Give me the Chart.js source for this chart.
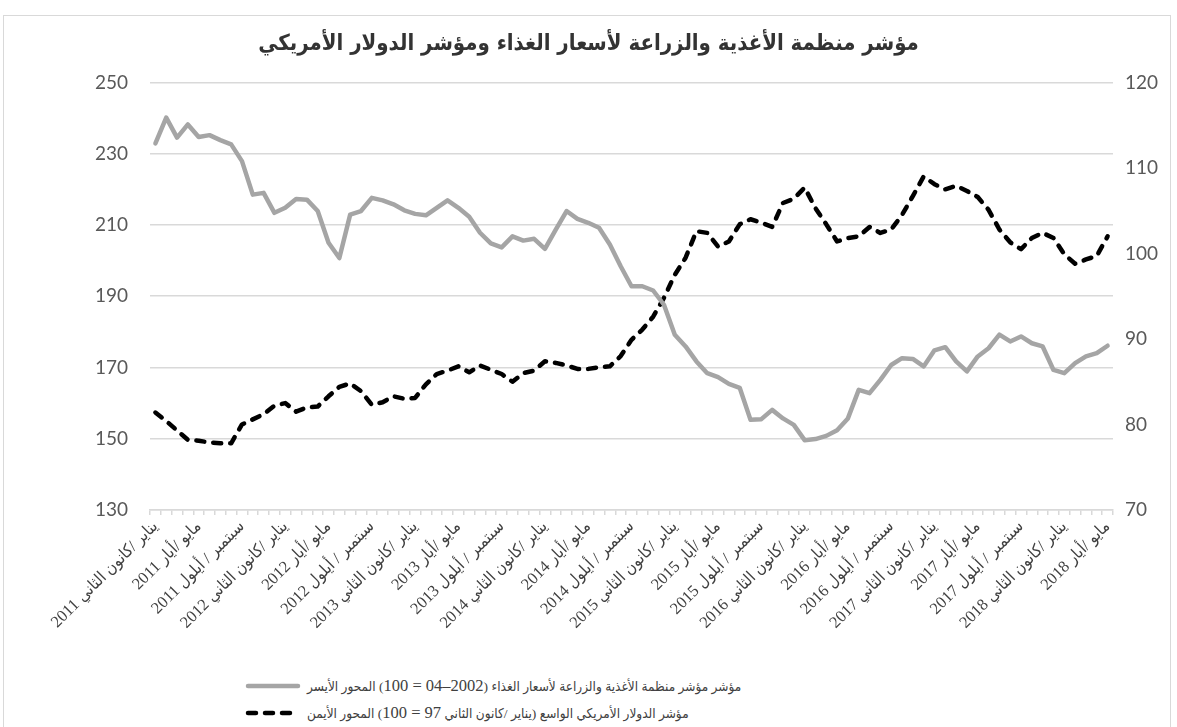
<!DOCTYPE html>
<html><head><meta charset="utf-8">
<script src="https://cdn.jsdelivr.net/npm/chart.js@4"></script>
<style>
html,body{margin:0;padding:0;background:#fff;}
body{width:1177px;height:727px;overflow:hidden;position:relative;font-family:"DejaVu Sans",sans-serif;}
#frame{position:absolute;left:3px;top:15px;width:1168px;height:740px;border:1.5px solid #d9d9d9;box-sizing:border-box;}
#wrap{position:absolute;left:0;top:0;width:1177px;height:640px;}
.leg{position:absolute;left:245px;height:24px;display:flex;align-items:center;}
.leg .t{direction:rtl;unicode-bidi:isolate;font-family:"Liberation Serif","DejaVu Sans Condensed","DejaVu Sans",serif;font-size:13.5px;color:#404040;margin-left:6px;white-space:nowrap;}
.leg .n{font-size:16.5px;}
</style>
</head><body>
<div id="frame"></div>
<div id="wrap"><canvas id="c" width="1177" height="640"></canvas></div>
<div class="leg" style="top:674px;"><svg width="56" height="12"><line x1="3" y1="6" x2="53" y2="6" stroke="#a5a5a5" stroke-width="4.5" stroke-linecap="round"/></svg><span class="t" id="l1"></span></div>
<div class="leg" style="top:701px;"><svg width="56" height="12"><line x1="3" y1="6" x2="53" y2="6" stroke="#000" stroke-width="4.5" stroke-linecap="round" stroke-dasharray="8 9"/></svg><span class="t" id="l2"></span></div>
<script>
const chartTitle = "مؤشر منظمة الأغذية والزراعة لأسعار الغذاء ومؤشر الدولار الأمريكي";
const foodLabelParts = ["مؤشر مؤشر منظمة الأغذية والزراعة لأسعار الغذاء  (", "2002–04 = 100", ") المحور الأيسر"];
const dollarLabelParts = ["مؤشر الدولار الأمريكي الواسع (يناير /كانون الثاني ", "97 = 100", ") المحور الأيمن"];

const monthNames = ["يناير /كانون الثاني","فبراير /شباط","مارس /آذار","أبريل /نيسان","مايو /أيار","يونيو /حزيران","يوليو /تموز","أغسطس /آب","سبتمبر / أيلول","أكتوبر /تشرين الأول","نوفمبر /تشرين الثاني","ديسمبر /كانون الأول"];
const years = [2011,2012,2013,2014,2015,2016,2017,2018];
const categories = [];
for (const y of years) for (let m = 0; m < 12; m++) { if (y === 2018 && m > 4) break; categories.push(monthNames[m] + " " + y); }

const foodIndex = [232.9,240.1,234.5,238.2,234.7,235.2,233.8,232.6,227.9,218.5,219.0,213.4,
214.8,217.3,217.1,213.9,205.0,200.7,212.9,213.9,217.6,216.9,215.8,214.1,
213.1,212.7,214.8,216.9,214.8,212.3,207.8,204.8,203.7,206.8,205.6,206.1,
203.3,208.7,213.9,211.7,210.6,209.2,204.5,198.4,192.8,192.8,191.6,187.6,
179.2,175.9,171.7,168.4,167.3,165.4,164.3,155.3,155.5,158.1,155.7,153.9,
149.6,149.9,150.8,152.4,155.7,163.7,162.8,166.5,170.7,172.6,172.4,170.3,
174.8,175.7,171.7,168.9,173.1,175.4,179.2,177.3,178.7,176.8,175.9,169.3,
168.4,171.2,173.1,174.0,176.1];

const dollarIndex = [81.4,80.4,79.3,78.2,78.1,77.9,77.8,77.8,80.0,80.6,81.2,82.2,
82.5,81.5,82.0,82.1,83.3,84.4,84.8,83.9,82.3,82.6,83.3,83.0,
83.1,84.7,85.9,86.3,86.8,86.1,86.9,86.4,85.9,85.0,86.0,86.3,
87.4,87.2,86.9,86.5,86.5,86.7,86.8,88.0,89.9,91.1,92.6,94.8,
97.5,99.5,102.6,102.4,100.8,101.4,103.4,104.0,103.6,103.1,105.9,106.4,
107.7,105.3,103.4,101.4,101.8,102.0,103.1,102.4,102.8,104.5,106.7,109.0,
108.1,107.5,107.9,107.3,106.6,105.1,102.8,101.3,100.5,101.8,102.4,101.8,
99.9,98.8,99.3,99.7,102.0];

const leftTicks = {min:130, max:250, step:20};
const rightTicks = {min:70, max:120, step:10};
const labelEvery = 4;

function fillLegend(id, parts) {
  const el = document.getElementById(id);
  el.appendChild(document.createTextNode(parts[0]));
  const b = document.createElement('span'); b.className = 'n'; b.textContent = parts[1]; el.appendChild(b);
  el.appendChild(document.createTextNode(parts[2]));
}
fillLegend('l1', foodLabelParts);
fillLegend('l2', dollarLabelParts);

new Chart(document.getElementById('c'), {
  type: 'line',
  data: {
    labels: categories,
    datasets: [
      {label: foodLabelParts.join(''), data: foodIndex, yAxisID: 'y', borderColor: '#a5a5a5', backgroundColor: '#a5a5a5', borderWidth: 4.5, pointRadius: 0, tension: 0, borderCapStyle: 'round', borderJoinStyle: 'round'},
      {label: dollarLabelParts.join(''), data: dollarIndex, yAxisID: 'y1', borderColor: '#000', backgroundColor: '#000', borderWidth: 4.5, pointRadius: 0, tension: 0, borderDash: [8, 9], borderCapStyle: 'round', borderJoinStyle: 'round'}
    ]
  },
  options: {
    responsive: false, animation: false,
    layout: {padding: 0},
    plugins: {
      legend: {display: false},
      tooltip: {enabled: false},
      title: {display: true, text: chartTitle, color: '#333333', font: {family: '"DejaVu Sans Condensed", "DejaVu Sans"', size: 22, weight: 'bold'}, padding: {top: 31, bottom: 25}}
    },
    scales: {
      x: {
        offset: true,
        grid: {offset: true, drawOnChartArea: false, drawTicks: true, tickLength: 5, color: '#d9d9d9', lineWidth: 1.5},
        border: {display: true, color: '#d9d9d9', width: 1.5},
        ticks: {autoSkip: false, maxRotation: 45, minRotation: 45, padding: 2, color: '#404040',
          font: {family: '"Liberation Serif", "DejaVu Sans Condensed", "DejaVu Sans", serif', size: 16.5},
          callback: (v, i) => (i % labelEvery === 0 ? categories[i] : '')},
        afterFit: s => { s.height = 130; }
      },
      y: {
        position: 'left', min: leftTicks.min, max: leftTicks.max,
        ticks: {stepSize: leftTicks.step, padding: 22, color: '#595959', font: {family: 'Lato', size: 19}},
        grid: {color: '#d9d9d9', lineWidth: 1.5, drawTicks: false},
        border: {display: false},
        afterFit: s => { s.width = 150; }
      },
      y1: {
        position: 'right', min: rightTicks.min, max: rightTicks.max,
        ticks: {stepSize: rightTicks.step, padding: 12, color: '#595959', font: {family: 'Lato', size: 19}},
        grid: {display: false, drawTicks: false},
        border: {display: false},
        afterFit: s => { s.width = 64; }
      }
    }
  }
});
</script>
</body></html>
